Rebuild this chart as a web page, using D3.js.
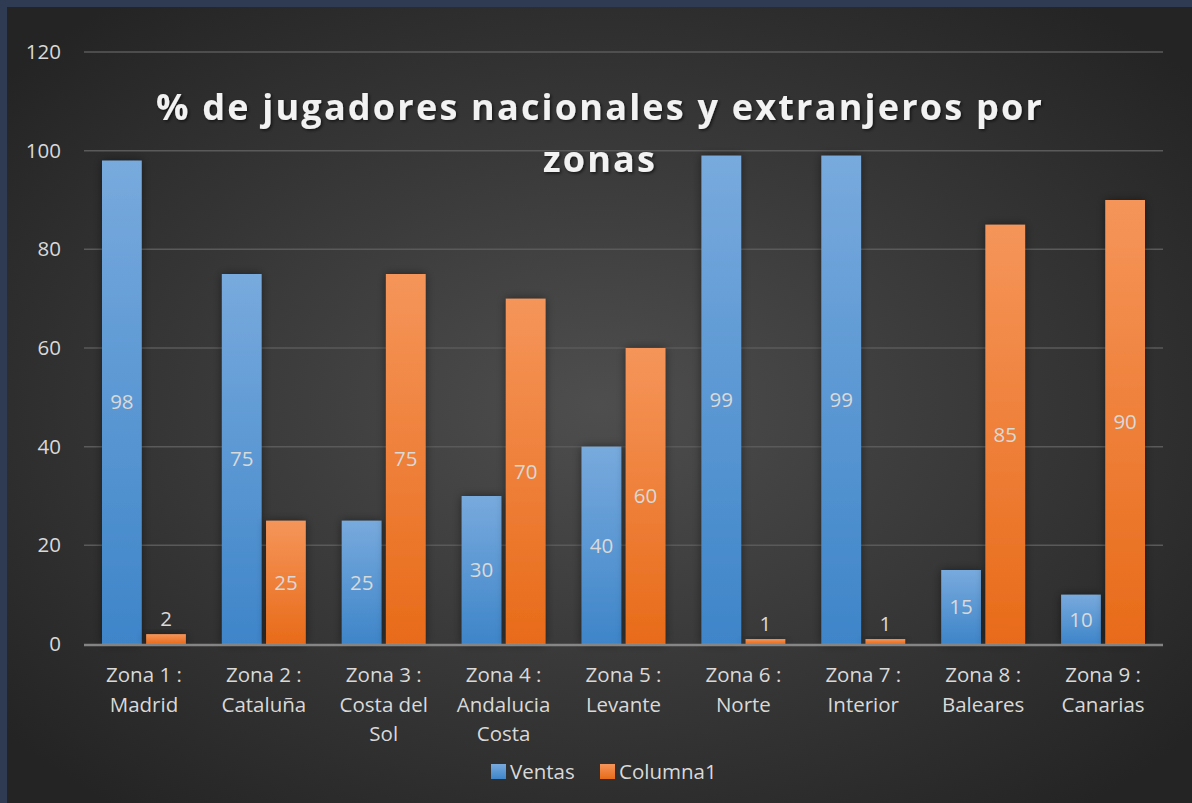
<!DOCTYPE html>
<html>
<head>
<meta charset="utf-8">
<script src="https://cdn.jsdelivr.net/npm/d3@7"></script>
<style>
  body { margin: 0; background: #2f3b52; }
  svg { display: block; }
</style>
</head>
<body>
<div id="chart"></div>
<script>
// Data
let zonas = [
  ["Zona 1 :", "Madrid"],
  ["Zona 2 :", "Cataluña"],
  ["Zona 3 :", "Costa del", "Sol"],
  ["Zona 4 :", "Andalucia", "Costa"],
  ["Zona 5 :", "Levante"],
  ["Zona 6 :", "Norte"],
  ["Zona 7 :", "Interior"],
  ["Zona 8 :", "Baleares"],
  ["Zona 9 :", "Canarias"]
];
let ventas = [98, 75, 25, 30, 40, 99, 99, 15, 10];
let columna1 = [2, 25, 75, 70, 60, 1, 1, 85, 90];
let seriesNames = ["Ventas", "Columna1"];
let yTicks = [0, 20, 40, 60, 80, 100, 120];
let titleLines = ["% de jugadores nacionales y extranjeros por", "zonas"];

// Set up conventions
let width = 1192;
let height = 803;
let margin = ({top: 52, right: 29, bottom: 159, left: 84});
let font = "'Open Sans', Lato, sans-serif";
let fontSize = "20.5px";
let textColor = "#d9d9d9";

let svg = d3.select("#chart")
  .append("svg")
  .attr("width", width)
  .attr("height", height);

let defs = svg.append("defs");

let bg = defs.append("radialGradient")
  .attr("id", "bg")
  .attr("cx", "50%").attr("cy", "50%").attr("r", "65%");
bg.append("stop").attr("offset", "0%").attr("stop-color", "#4e4e4e");
bg.append("stop").attr("offset", "100%").attr("stop-color", "#242424");

function barGradient(id, top, bottom) {
  let g = defs.append("linearGradient")
    .attr("id", id)
    .attr("x1", 0).attr("y1", 0).attr("x2", 0).attr("y2", 1);
  g.append("stop").attr("offset", "0%").attr("stop-color", top);
  g.append("stop").attr("offset", "100%").attr("stop-color", bottom);
}
barGradient("gBlue", "#78aadd", "#3e85c9");
barGradient("gOrange", "#f5955a", "#e86b19");

let shadow = defs.append("filter")
  .attr("id", "shadow")
  .attr("x", "-50%").attr("y", "-50%").attr("width", "200%").attr("height", "200%");
shadow.append("feDropShadow")
  .attr("dx", 0).attr("dy", 0).attr("stdDeviation", 5)
  .attr("flood-color", "#000").attr("flood-opacity", 0.45);

let tshadow = defs.append("filter").attr("id", "tshadow");
tshadow.append("feDropShadow")
  .attr("dx", 1.5).attr("dy", 1.5).attr("stdDeviation", 1.5)
  .attr("flood-color", "#000").attr("flood-opacity", 0.6);

// background with border at top and left
svg.append("rect")
  .attr("x", 7).attr("y", 7)
  .attr("width", width - 7).attr("height", height - 7)
  .attr("fill", "url(#bg)");

// Scales
let xScale = d3.scaleBand()
  .domain(d3.range(zonas.length))
  .range([margin.left, width - margin.right]);

let inner = d3.scaleBand()
  .domain(seriesNames)
  .range([18, xScale.bandwidth() - 18])
  .paddingInner(0.1);

let yScale = d3.scaleLinear()
  .domain([0, 120])
  .range([height - margin.bottom, margin.top]);

// Gridlines
svg.append("g")
  .selectAll("line")
  .data(yTicks.slice(1))
  .enter()
  .append("line")
  .attr("x1", margin.left)
  .attr("x2", width - margin.right)
  .attr("y1", d => yScale(d))
  .attr("y2", d => yScale(d))
  .attr("stroke", "#5a5a5a")
  .attr("stroke-width", 1.5);

// y axis labels
let yAxis = d3.axisLeft(yScale).tickValues(yTicks).tickSize(0).tickPadding(23);
let yg = svg.append("g")
  .attr("transform", "translate(" + margin.left + ",0)")
  .call(yAxis);
yg.select(".domain").remove();
yg.selectAll("text")
  .attr("fill", textColor)
  .style("font-family", font)
  .style("font-size", fontSize);

// Bars
let series = [
  {name: "Ventas", values: ventas, fill: "url(#gBlue)"},
  {name: "Columna1", values: columna1, fill: "url(#gOrange)"}
];

series.forEach(s => {
  let g = svg.append("g");
  g.selectAll("rect")
    .data(s.values)
    .enter()
    .append("rect")
    .attr("x", (d, i) => xScale(i) + inner(s.name))
    .attr("width", inner.bandwidth())
    .attr("y", d => yScale(d))
    .attr("height", d => yScale(0) - yScale(d))
    .attr("fill", s.fill)
    .attr("filter", "url(#shadow)");

  g.selectAll("text")
    .data(s.values)
    .enter()
    .append("text")
    .attr("x", (d, i) => xScale(i) + inner(s.name) + inner.bandwidth() / 2)
    .attr("y", d => d < 5 ? yScale(d) - 15 : (yScale(d) + yScale(0)) / 2)
    .attr("dy", "0.35em")
    .attr("text-anchor", "middle")
    .attr("fill", textColor)
    .style("font-family", font)
    .style("font-size", fontSize)
    .text(d => d);
});

// x axis line
svg.append("line")
  .attr("x1", margin.left)
  .attr("x2", width - margin.right)
  .attr("y1", yScale(0) + 1)
  .attr("y2", yScale(0) + 1)
  .attr("stroke", "#9a9a9a")
  .attr("stroke-width", 2.5)
  .attr("opacity", 0.8);

// x labels
let xl = svg.append("g")
  .selectAll("text")
  .data(zonas)
  .enter()
  .append("text")
  .attr("text-anchor", "middle")
  .attr("fill", textColor)
  .style("font-family", font)
  .style("font-size", fontSize);
xl.selectAll("tspan")
  .data((d, i) => d.map(line => ({line: line, i: i})))
  .enter()
  .append("tspan")
  .attr("x", d => xScale(d.i) + xScale.bandwidth() / 2)
  .attr("y", (d, j) => 682 + j * 29.5)
  .text(d => d.line);

// Title, letter spacing fitted so the first line spans the same width as the original
let title = svg.append("g")
  .selectAll("text")
  .data(titleLines)
  .enter()
  .append("text")
  .attr("x", 600)
  .attr("y", (d, i) => 120 + i * 52)
  .attr("text-anchor", "middle")
  .attr("fill", "#f2f2f2")
  .attr("filter", "url(#tshadow)")
  .style("font-family", font)
  .style("font-size", "36px")
  .style("font-weight", "bold")
  .text(d => d);
let natural = title.node().getComputedTextLength();
let spacing = Math.max(0, (888 - natural) / titleLines[0].length);
title.style("letter-spacing", spacing + "px");

// Legend
let legend = svg.append("g")
  .attr("transform", "translate(491,764)");
let lx = [0, 109];
series.forEach((s, i) => {
  legend.append("rect")
    .attr("x", lx[i]).attr("y", 0)
    .attr("width", 15).attr("height", 15)
    .attr("fill", s.fill);
  legend.append("text")
    .attr("x", lx[i] + 19).attr("y", 7.5)
    .attr("dy", "0.35em")
    .attr("fill", textColor)
    .style("font-family", font)
    .style("font-size", fontSize)
    .text(s.name);
});
</script>
</body>
</html>
